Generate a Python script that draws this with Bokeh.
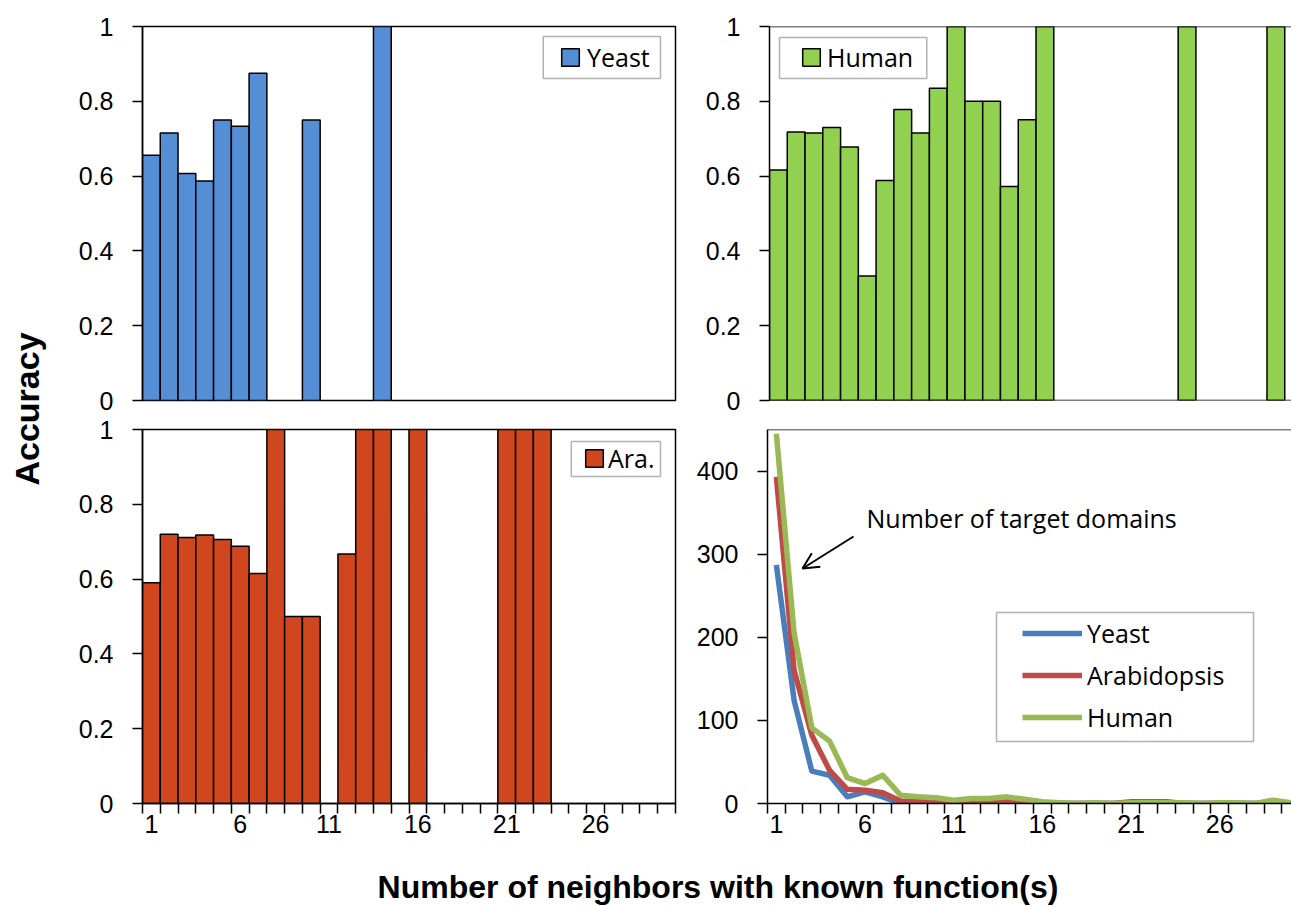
import math
from bokeh.plotting import figure
from bokeh.layouts import row, column
from bokeh.models import (ColumnDataSource, FixedTicker, Legend, LegendItem, Label, Arrow,
                          OpenHead, BoxAnnotation, Span, CustomJSTickFormatter, Range1d)
from bokeh.embed import file_html
from bokeh.resources import INLINE

# ---------------- data ----------------
categories = list(range(1, 31))
x_tick_values = [1, 6, 11, 16, 21, 26]
acc_ticks = [0, 0.2, 0.4, 0.6, 0.8, 1.0]
count_ticks = [0, 100, 200, 300, 400]

yeast_accuracy = [0.656, 0.715, 0.607, 0.587, 0.750, 0.733, 0.875, 0, 0, 0.750,
                  0, 0, 0, 1.0, 0, 0, 0, 0, 0, 0,
                  0, 0, 0, 0, 0, 0, 0, 0, 0, 0]
human_accuracy = [0.616, 0.718, 0.715, 0.730, 0.678, 0.333, 0.588, 0.778, 0.715, 0.835,
                  1.0, 0.800, 0.800, 0.572, 0.751, 1.0, 0, 0, 0, 0,
                  0, 0, 0, 1.0, 0, 0, 0, 0, 1.0, 0]
ara_accuracy = [0.590, 0.720, 0.711, 0.718, 0.706, 0.688, 0.615, 1.0, 0.5, 0.5,
                0, 0.667, 1.0, 1.0, 0, 1.0, 0, 0, 0, 0,
                1.0, 1.0, 1.0, 0, 0, 0, 0, 0, 0, 0]

yeast_domains = [287, 124, 39, 34, 8, 14, 8, 0, 0, 1,
                 0, 0, 0, 1, 0, 0, 0, 0, 0, 0,
                 0, 0, 0, 0, 0, 0, 0, 0, 0, 0]
arabidopsis_domains = [393, 160, 82, 40, 17, 16, 13, 3, 2, 2,
                       0, 1, 1, 2, 1, 0, 0, 0, 0, 0,
                       2, 2, 2, 0, 0, 0, 0, 0, 1, 0]
human_domains = [445, 205, 91, 75, 31, 24, 34, 10, 8, 7,
                 4, 6, 6, 8, 5, 2, 1, 0, 1, 0,
                 1, 1, 1, 1, 0, 1, 1, 0, 4, 1]

# ---------------- style ----------------
TICK_FONT = "Liberation Sans"
TEXT_FONT = "Open Sans"
TITLE_FONT = "Liberation Sans"
TICK_SIZE = "25px"
TEXT_SIZE = "25px"
YEAST_BAR = "#558ED5"
HUMAN_BAR = "#92D050"
ARA_BAR = "#D0461E"
YEAST_LINE = "#4A7EBB"
ARA_LINE = "#BE4B48"
HUMAN_LINE = "#98B954"
PX_PER_CAT = 532 / 30.0
Y_STANDOFF = 19
ACC_AXIS_W = 68     # width Bokeh reserves for the 0..1 y axis
CNT_AXIS_W = 74     # width Bokeh reserves for the 0..400 y axis

GEOM = {}


def panel(name, width, height, axis_w, right, top, bottom, y_end, outline=True):
    frame_w = width - axis_w - right
    x_end = 0.5 + frame_w / PX_PER_CAT
    p = figure(width=width, height=height, x_range=Range1d(0.5, x_end), y_range=Range1d(0, y_end),
               output_backend="svg", toolbar_location=None,
               min_border_left=0, min_border_right=right,
               min_border_top=top, min_border_bottom=bottom)
    p.grid.visible = False
    p.background_fill_color = "white"
    p.border_fill_color = "white"
    if outline:
        p.outline_line_color = "black"
        p.outline_line_width = 1.5
    else:
        p.outline_line_color = None
    GEOM[name] = dict(frame_h=height - top - bottom, y_end=y_end)
    return p


def style_y(p, ticks):
    ax = p.yaxis[0]
    ax.ticker = FixedTicker(ticks=ticks, minor_ticks=[])
    ax.formatter = CustomJSTickFormatter(code="return String(Math.round(tick*10)/10);")
    ax.major_tick_out = 10
    ax.major_tick_in = 0
    ax.minor_tick_out = 0
    ax.minor_tick_in = 0
    ax.axis_line_color = "black"
    ax.axis_line_width = 1.5
    ax.major_tick_line_color = "black"
    ax.major_tick_line_width = 1.5
    ax.major_label_text_font = TICK_FONT
    ax.major_label_text_font_size = TICK_SIZE
    ax.major_label_text_color = "black"
    ax.major_label_standoff = Y_STANDOFF


def style_x(p, show):
    if not show:
        p.xaxis.visible = False
        return
    ax = p.xaxis[0]
    boundaries = [c - 0.5 for c in categories] + [categories[-1] + 0.5]
    ax.ticker = FixedTicker(ticks=x_tick_values, minor_ticks=boundaries)
    ax.major_tick_out = 0
    ax.major_tick_in = 0
    ax.minor_tick_out = 10
    ax.minor_tick_in = 0
    ax.minor_tick_line_color = "black"
    ax.minor_tick_line_width = 1.5
    ax.axis_line_color = "black"
    ax.axis_line_width = 1.5
    ax.major_label_text_font = TICK_FONT
    ax.major_label_text_font_size = TICK_SIZE
    ax.major_label_text_color = "black"
    ax.major_label_standoff = 1


def px_x(frame_left, px):
    return 0.5 + (px - frame_left) / PX_PER_CAT


def px_y(name, frame_bottom, py):
    g = GEOM[name]
    return (frame_bottom - py) / g["frame_h"] * g["y_end"]


def legend_box(p, name, frame_left, frame_bottom, l, r, t, b):
    p.add_layout(BoxAnnotation(left=px_x(frame_left, l), right=px_x(frame_left, r),
                               top=px_y(name, frame_bottom, t), bottom=px_y(name, frame_bottom, b),
                               fill_color="white", fill_alpha=1.0,
                               line_color="black", line_width=1.5))


def add_legend(p, items, x, y, gw, gh, standoff, spacing=0):
    leg = Legend(items=items, location=(x, y), orientation="vertical", padding=0, margin=0,
                 spacing=spacing, glyph_width=gw, glyph_height=gh, label_height=gh,
                 label_standoff=standoff, label_text_font=TEXT_FONT,
                 label_text_font_size=TEXT_SIZE, label_text_color="black",
                 border_line_color=None, background_fill_alpha=0)
    p.add_layout(leg)


def bar_panel(p, name, values, color, label, frame_left, frame_bottom, box, leg_xy, standoff):
    xs = [c for c, v in zip(categories, values) if v > 0]
    ys = [v for v in values if v > 0]
    src = ColumnDataSource(dict(x=xs, top=ys))
    r = p.vbar(x="x", top="top", width=1.0, source=src, fill_color=color,
               line_color="black", line_width=1.5)
    legend_box(p, name, frame_left, frame_bottom, *box)
    add_legend(p, [LegendItem(label=label, renderers=[r])], leg_xy[0], leg_xy[1], 22, 22, standoff)
    return r


# ---------------- layout geometry (page px, no body margin) ----------------
# TL frame: 143-675 x 26-400 ; TR frame: 770-1291 x 26-400
# BL frame: 143-675 x 429-803 ; BR frame: 767-1291 x 429-803
YLAB_W = 143 - ACC_AXIS_W
TR_START = 770 - ACC_AXIS_W
BR_START = 767 - CNT_AXIS_W
tl = panel("tl", TR_START - YLAB_W, 415, ACC_AXIS_W, TR_START - YLAB_W - ACC_AXIS_W - 532, 26, 15, 1.0)
tr = panel("tr", 1291 - TR_START, 415, ACC_AXIS_W, 0, 26, 15, 1.0, outline=False)
bl = panel("bl", BR_START - YLAB_W, 428, ACC_AXIS_W, BR_START - YLAB_W - ACC_AXIS_W - 532, 14, 40, 1.0)
br = panel("br", 1291 - BR_START, 428, CNT_AXIS_W, 0, 14, 40, 450, outline=False)
BR_LEFT = 767

for p in (tl, tr, bl):
    style_y(p, acc_ticks)
style_y(br, count_ticks)
style_x(tl, False)
style_x(tr, False)
style_x(bl, True)
style_x(br, True)

# top / bottom border lines for the right-hand panels (cropped on the right)
tr.add_layout(Span(location=1.0, dimension="width", line_color="black", line_width=1.5))
tr.add_layout(Span(location=0.0, dimension="width", line_color="black", line_width=1.5))
br.add_layout(Span(location=450, dimension="width", line_color="black", line_width=1.5))

bar_panel(tl, "tl", yeast_accuracy, YEAST_BAR, "Yeast", 143, 400,
          (543, 660, 36, 78), (560 - 143, 400 - 74), 6)
bar_panel(tr, "tr", human_accuracy, HUMAN_BAR, "Human", 770, 400,
          (780, 927, 37, 78), (801 - 770, 400 - 74), 5)
bar_panel(bl, "bl", ara_accuracy, ARA_BAR, "Ara.", 143, 803,
          (571, 660, 441, 476), (584 - 143, 803 - 475), 3)

# line panel
line_src = ColumnDataSource(dict(x=categories, yeast=yeast_domains,
                                 ara=arabidopsis_domains, human=human_domains))
ry = br.line("x", "yeast", source=line_src, line_color=YEAST_LINE, line_width=5.5, line_join="round")
ra = br.line("x", "ara", source=line_src, line_color=ARA_LINE, line_width=5.5, line_join="round")
rh = br.line("x", "human", source=line_src, line_color=HUMAN_LINE, line_width=5.5, line_join="round")

legend_box(br, "br", BR_LEFT, 803, 996, 1253, 612, 741)
add_legend(br, [LegendItem(label="Yeast", renderers=[ry]),
                LegendItem(label="Arabidopsis", renderers=[ra]),
                LegendItem(label="Human", renderers=[rh])],
           1022 - BR_LEFT, 803 - 734, 60, 22, 5, spacing=8)

br.add_layout(Label(x=px_x(BR_LEFT, 866), y=px_y("br", 803, 517), text="Number of target domains",
                    text_font=TEXT_FONT, text_font_size=TEXT_SIZE, text_color="black",
                    text_align="left", text_baseline="middle"))
br.add_layout(Arrow(end=OpenHead(size=16, line_width=2, line_color="black"),
                    x_start=px_x(BR_LEFT, 853), y_start=px_y("br", 803, 536),
                    x_end=px_x(BR_LEFT, 802), y_end=px_y("br", 803, 568),
                    line_width=2, line_color="black"))

# axis titles
ylab = figure(width=YLAB_W, height=905, x_range=Range1d(0, YLAB_W), y_range=Range1d(0, 905),
              output_backend="svg", toolbar_location=None, min_border=0,
              x_axis_type=None, y_axis_type=None)
ylab.outline_line_color = None
ylab.add_layout(Label(x=26, y=905 - 408.5, text="Accuracy", angle=math.pi / 2,
                      text_align="center", text_baseline="middle", text_font=TITLE_FONT,
                      text_font_style="bold", text_font_size="34px", text_color="black"))

xlab = figure(width=1291 - YLAB_W, height=62, x_range=Range1d(0, 1291 - YLAB_W), y_range=Range1d(0, 62),
              output_backend="svg", toolbar_location=None, min_border=0,
              x_axis_type=None, y_axis_type=None)
xlab.outline_line_color = None
xlab.add_layout(Label(x=717.5 - YLAB_W, y=905 - 886, text="Number of neighbors with known function(s)",
                      text_align="center", text_baseline="middle", text_font=TITLE_FONT,
                      text_font_style="bold", text_font_size="32px", text_color="black"))

layout = row(ylab, column(row(tl, tr), row(bl, br), xlab))

with open("out.html", "w") as f:
    f.write(file_html(layout, INLINE))
